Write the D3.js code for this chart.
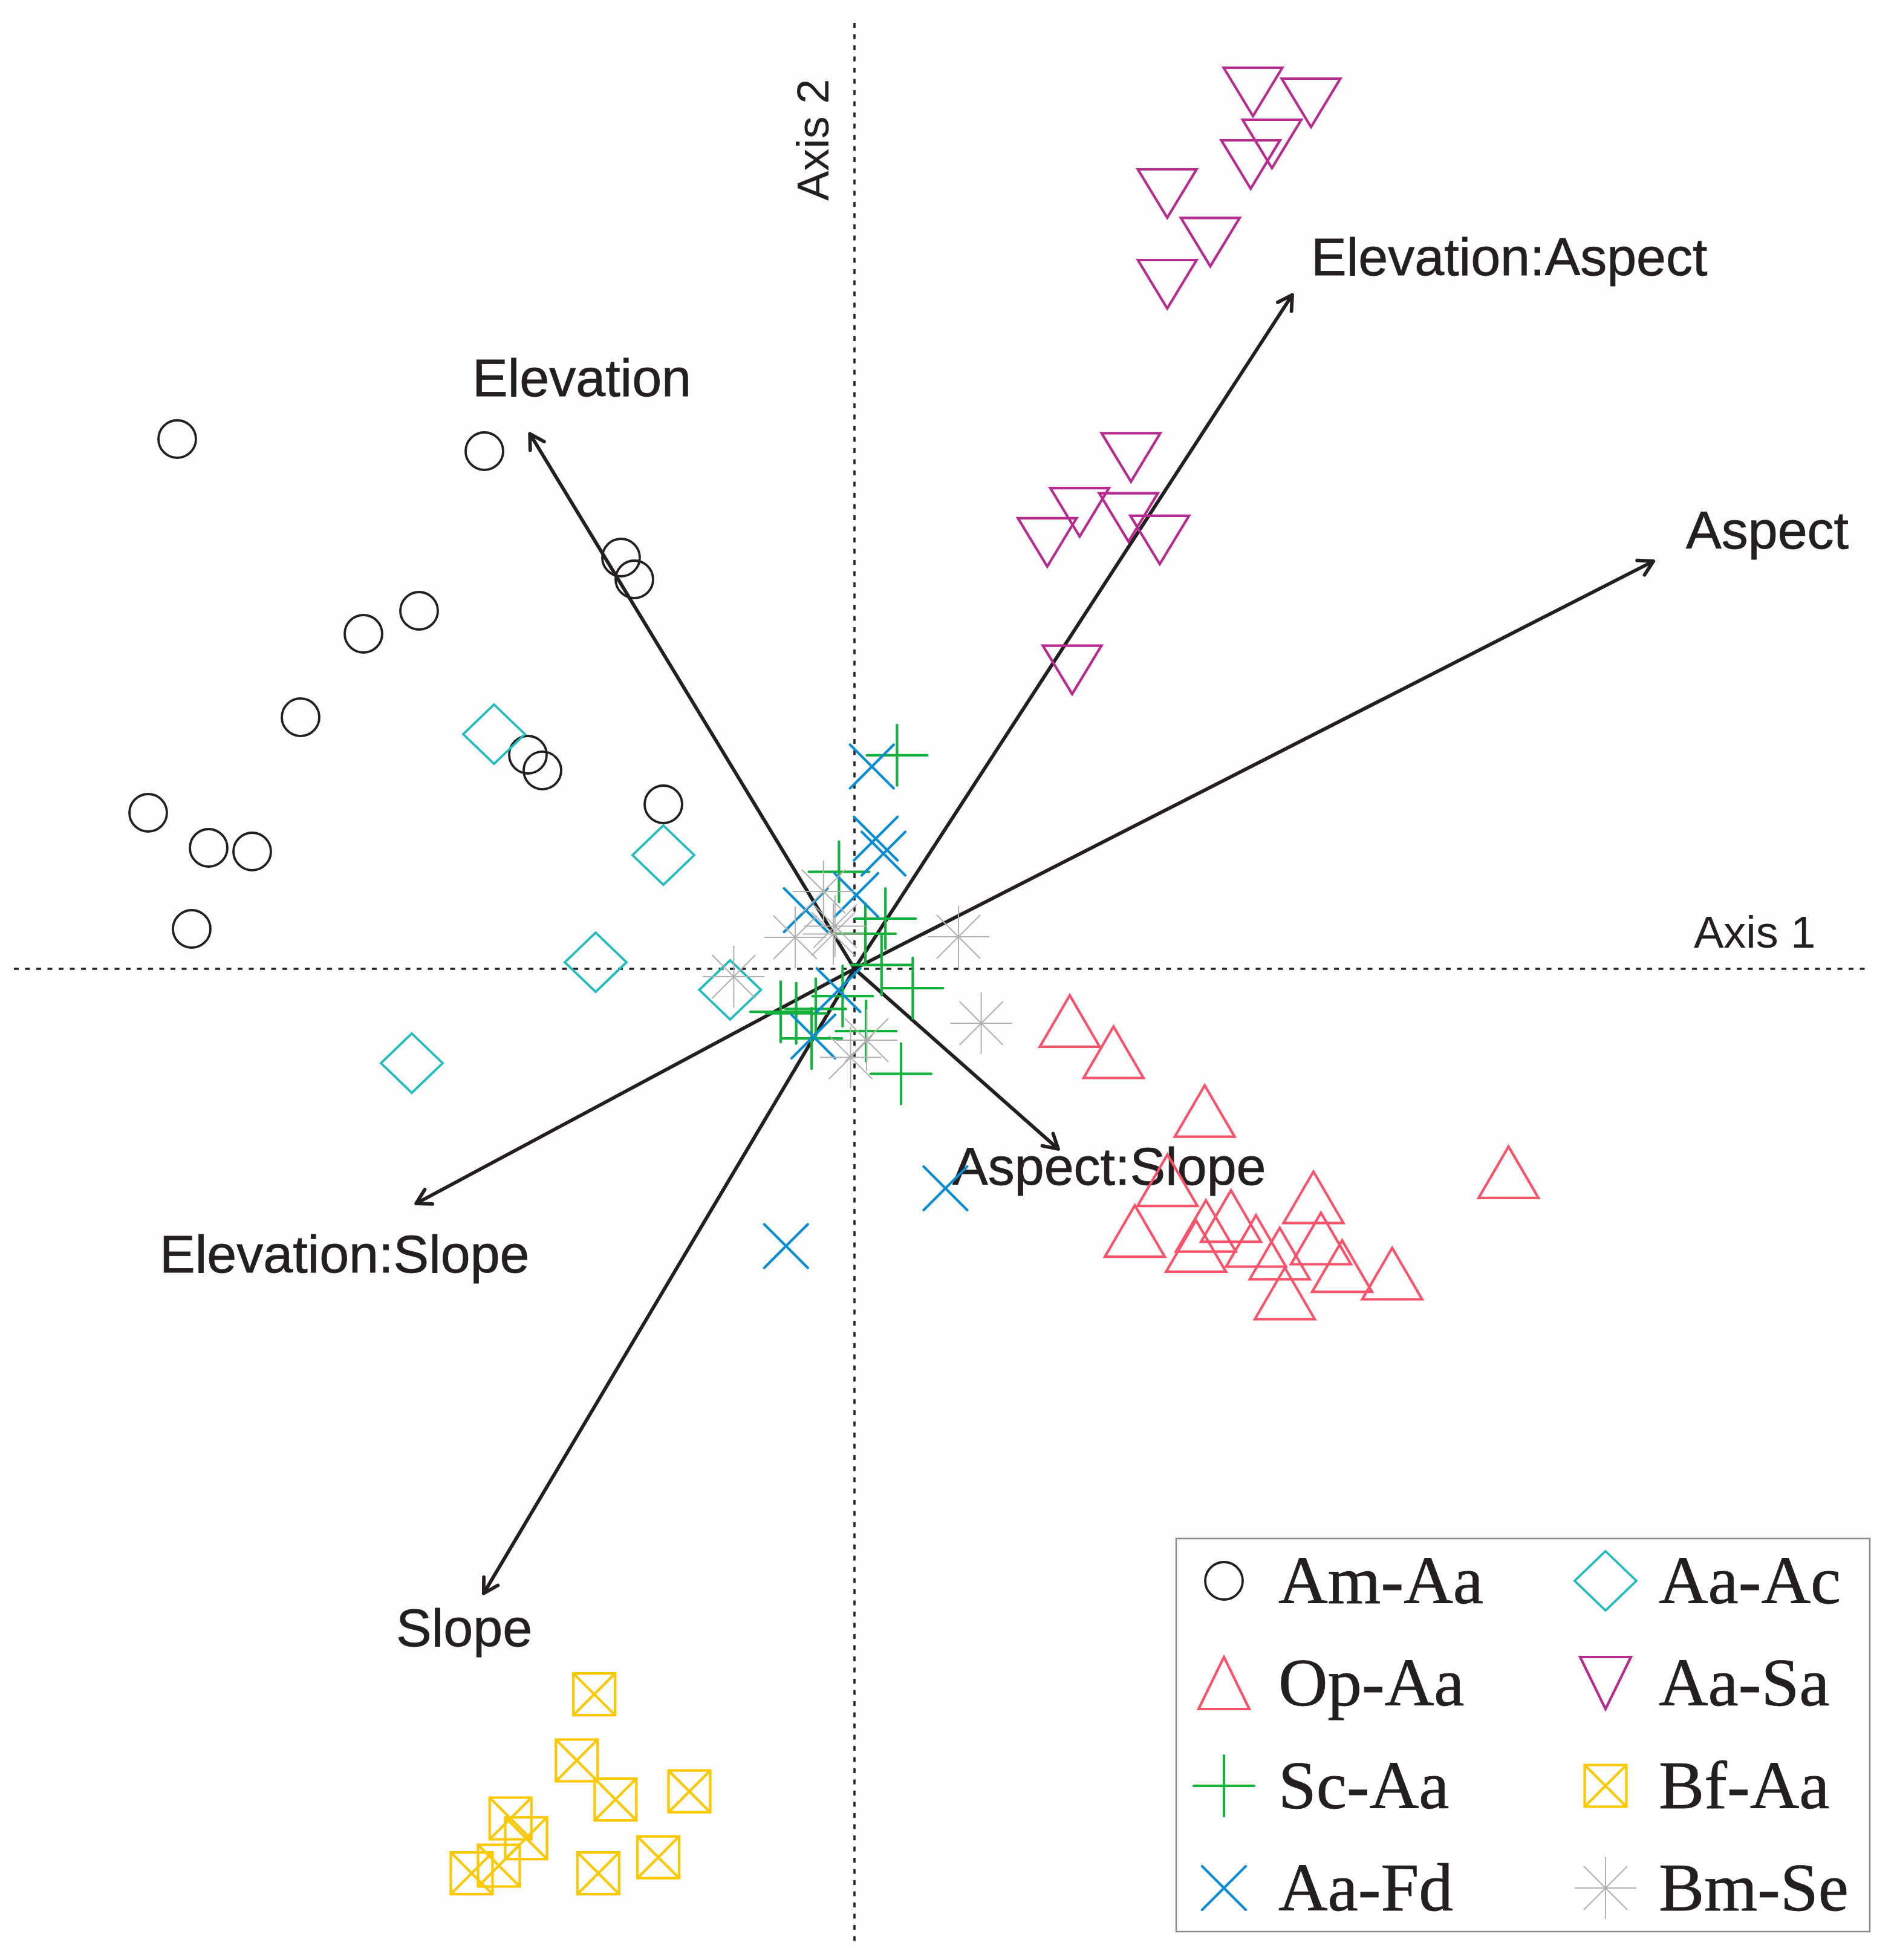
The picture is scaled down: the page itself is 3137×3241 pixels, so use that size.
<!DOCTYPE html>
<html><head><meta charset="utf-8">
<script src="https://cdn.jsdelivr.net/npm/d3@7"></script>
<style>
html,body{margin:0;padding:0;background:#ffffff;}
svg{display:block;}
</style></head>
<body><svg id="chart" width="3137" height="3241"></svg>
<script>
// ---------------- DATA (ordination scores, Axis 1 / Axis 2) ----------------
const groups = ["Am-Aa","Aa-Ac","Op-Aa","Aa-Sa","Sc-Aa","Bf-Aa","Aa-Fd","Bm-Se"];

const amAa = [[-2.80,2.19],[-1.53,2.14],[-0.965,1.70],[-0.91,1.61],[-1.80,1.48],[-2.03,1.385],
  [-2.29,1.04],[-1.35,0.885],[-1.29,0.82],[-0.79,0.68],[-2.92,0.645],[-2.67,0.50],[-2.49,0.485],[-2.74,0.165]];
const aaAc = [[-1.49,0.97],[-0.79,0.47],[-1.07,0.027],[-0.514,-0.087],[-1.83,-0.39]];
const opAa = [[0.89,-0.216],[1.071,-0.345],[1.448,-0.588],[2.704,-0.841],[1.294,-0.874],[1.8975,-0.9445],
  [1.5565,-1.022],[1.453,-1.063],[1.159,-1.084],[1.412,-1.146],[1.66,-1.125],[1.9285,-1.115],
  [1.758,-1.177],[2.016,-1.229],[2.223,-1.26],[1.779,-1.342]];
const aaSa = [[1.6475,3.625],[1.8875,3.58],[1.726,3.41],[1.638,3.325],[1.293,3.205],[1.471,3.004],
  [1.293,2.83],[1.143,2.114],[0.931,1.887],[1.133,1.866],[0.797,1.763],[1.262,1.773],[0.90,1.236]];
const scAa = [[0.176,0.883],[-0.064,0.401],[0.128,0.2075],[0.045,0.145],[0.112,0.016],[0.241,-0.08],
  [-0.049,-0.113],[-0.305,-0.178],[-0.241,-0.184],[-0.16,-0.166],[-0.177,-0.288],[0.048,-0.2575],[0.1925,-0.434]];
const bfAa = [[-1.076,-2.999],[-1.148,-3.2725],[-0.988,-3.434],[-0.6825,-3.4005],[-1.422,-3.5125],
  [-1.3575,-3.594],[-1.47,-3.7075],[-1.5825,-3.739],[-1.059,-3.739],[-0.811,-3.673]];
const aaFd = [[0.072,0.836],[0.088,0.538],[0.12,0.476],[0.0075,0.305],[-0.201,0.2425],
  [-0.066,-0.088],[-0.17,-0.28],[0.376,-0.9075],[-0.283,-1.146]];
const bmSe = [[-0.245,0.13],[-0.0805,0.176],[-0.128,0.32],[-0.0875,0.144],[0.43,0.1325],
  [-0.499,-0.0325],[0.524,-0.225],[0.05,-0.295],[-0.016,-0.366]];

const envVars  = ["Elevation","Aspect","Slope","Elevation:Aspect","Elevation:Slope","Aspect:Slope"];
const envAxis1 = [-1.342, 3.303, -1.533, 1.81, -1.812, 0.8425];
const envAxis2 = [ 2.212, 1.685, -2.582, 2.786, -0.970, -0.745];

const axisLabels = ["Axis 1","Axis 2"];

// ---------------- LAYOUT / STYLE ----------------
const groupSites = [amAa, aaAc, opAa, aaSa, scAa, bfAa, aaFd, bmSe];
const groupShape = ["circle","diamond","triUp","triDown","plus","boxX","cross","asterisk"];
const groupColor = ["#231f20","#22bcc0","#f7536b","#b72b8e","#14b13c","#fcc800","#0a8dd0","#b0b0b0"];
const ink = "#231f20";

const svg = d3.select("#chart");
const x = d3.scaleLinear().domain([-3.5, 4.25]).range([13, 3113]);
const y = d3.scaleLinear().domain([-4, 4]).range([3202, 2]);

// panel background
svg.append("rect").attr("x",23).attr("y",38).attr("width",3071).attr("height",3185).attr("fill","#fdfdfd");

// dashed zero axes
svg.append("line").attr("x1",23).attr("x2",3094).attr("y1",y(0)).attr("y2",y(0))
  .attr("stroke",ink).attr("stroke-width",3.6).attr("stroke-dasharray","8,10.5");
svg.append("line").attr("x1",x(0)).attr("x2",x(0)).attr("y1",38).attr("y2",3216)
  .attr("stroke",ink).attr("stroke-width",3.6).attr("stroke-dasharray","8,10.5");

const sansFont = "'Liberation Sans', Arial, Helvetica, sans-serif";
svg.append("text").attr("x",2801).attr("y",1567).attr("font-family",sansFont).attr("font-size",74)
  .attr("fill",ink).text(axisLabels[0]);
svg.append("text").attr("transform","translate(1370,332) rotate(-90)").attr("font-family",sansFont)
  .attr("font-size",74).attr("fill",ink).text(axisLabels[1]);

// symbol path generator
function symbolPath(shape, cx, cy, legend) {
  switch (shape) {
    case "diamond": { const w = 51, h = 49;
      return `M${cx},${cy-h}L${cx+w},${cy}L${cx},${cy+h}L${cx-w},${cy}Z`; }
    case "triUp": { const w = legend ? 42 : 49.5, h = legend ? 43 : 42.5;
      return `M${cx},${cy-h}L${cx+w},${cy+h}L${cx-w},${cy+h}Z`; }
    case "triDown": { const w = legend ? 42 : 48.5, h = legend ? 43 : 40;
      return `M${cx-w},${cy-h}L${cx+w},${cy-h}L${cx},${cy+h}Z`; }
    case "plus": { const a = 50;
      return `M${cx-a},${cy}H${cx+a}M${cx},${cy-a}V${cy+a}`; }
    case "cross": { const a = 36;
      return `M${cx-a},${cy-a}L${cx+a},${cy+a}M${cx-a},${cy+a}L${cx+a},${cy-a}`; }
    case "boxX": { const a = 34.5;
      return `M${cx-a},${cy-a}H${cx+a}V${cy+a}H${cx-a}ZM${cx-a},${cy-a}L${cx+a},${cy+a}M${cx-a},${cy+a}L${cx+a},${cy-a}`; }
    case "asterisk": { const a = 51, b = 36;
      return `M${cx-a},${cy}H${cx+a}M${cx},${cy-a}V${cy+a}M${cx-b},${cy-b}L${cx+b},${cy+b}M${cx-b},${cy+b}L${cx+b},${cy-b}`; }
    default: { const r = 31;
      return `M${cx+r},${cy}A${r},${r} 0 1,1 ${cx-r},${cy}A${r},${r} 0 1,1 ${cx+r},${cy}Z`; }
  }
}
function strokeW(shape){ return shape === "asterisk" ? 2 : (shape==="circle"||shape==="diamond" ? 3.8 : 4.2); }

// biplot arrows
const arrowG = svg.append("g");
const labelPos = [[781,655],[2788,907],[655,2722],[2168,455],[264,2104],[1575,1959]];
envVars.forEach((name, i) => {
  const x0 = x(0), y0 = y(0), x1 = x(envAxis1[i]), y1 = y(envAxis2[i]);
  const ang = Math.atan2(y1 - y0, x1 - x0), L = 27, da = Math.PI / 6;
  const hx1 = x1 - L*Math.cos(ang - da), hy1 = y1 - L*Math.sin(ang - da);
  const hx2 = x1 - L*Math.cos(ang + da), hy2 = y1 - L*Math.sin(ang + da);
  arrowG.append("path")
    .attr("d", `M${x0},${y0}L${x1},${y1}M${hx1},${hy1}L${x1},${y1}L${hx2},${hy2}`)
    .attr("fill","none").attr("stroke",ink).attr("stroke-width",5.8)
    .attr("stroke-linecap","round").attr("stroke-linejoin","round");
  arrowG.append("text").attr("x",labelPos[i][0]).attr("y",labelPos[i][1])
    .attr("font-family",sansFont).attr("font-size",88).attr("fill",ink)
    .attr("stroke",ink).attr("stroke-width",0.8).text(name);
});

// site points
const ptG = svg.append("g");
groups.forEach((g, gi) => {
  const shape = groupShape[gi];
  ptG.append("g").selectAll("path").data(groupSites[gi]).join("path")
    .attr("d", d => symbolPath(shape, x(d[0]), y(d[1]), false))
    .attr("fill","none").attr("stroke",groupColor[gi]).attr("stroke-width",strokeW(shape))
    .attr("stroke-linecap", (shape==="plus"||shape==="cross") ? "round" : "butt")
    .attr("stroke-linejoin","miter");
});

// legend
const lg = svg.append("g");
lg.append("rect").attr("x",1945).attr("y",2544).attr("width",1147).attr("height",650)
  .attr("fill","#ffffff").attr("stroke","#8a8a8a").attr("stroke-width",2.5);
const legSymX = [2024, 2655], legTxtX = [2114, 2743], legBase = [2651, 2820, 2990, 3159];
groups.forEach((g, gi) => {
  const col = gi % 2, row = Math.floor(gi / 2);
  const shape = groupShape[gi];
  const cy = legBase[row] - 37;
  lg.append("path").attr("d", symbolPath(shape, legSymX[col], cy, true))
    .attr("fill","none").attr("stroke",groupColor[gi]).attr("stroke-width",strokeW(shape))
    .attr("stroke-linecap", (shape==="plus"||shape==="cross") ? "round" : "butt");
  lg.append("text").attr("x",legTxtX[col]).attr("y",legBase[row])
    .attr("font-family","'Liberation Serif', 'Times New Roman', serif").attr("font-size",113)
    .attr("fill",ink).attr("stroke",ink).attr("stroke-width",0.8).text(g);
});
</script>
</body></html>
